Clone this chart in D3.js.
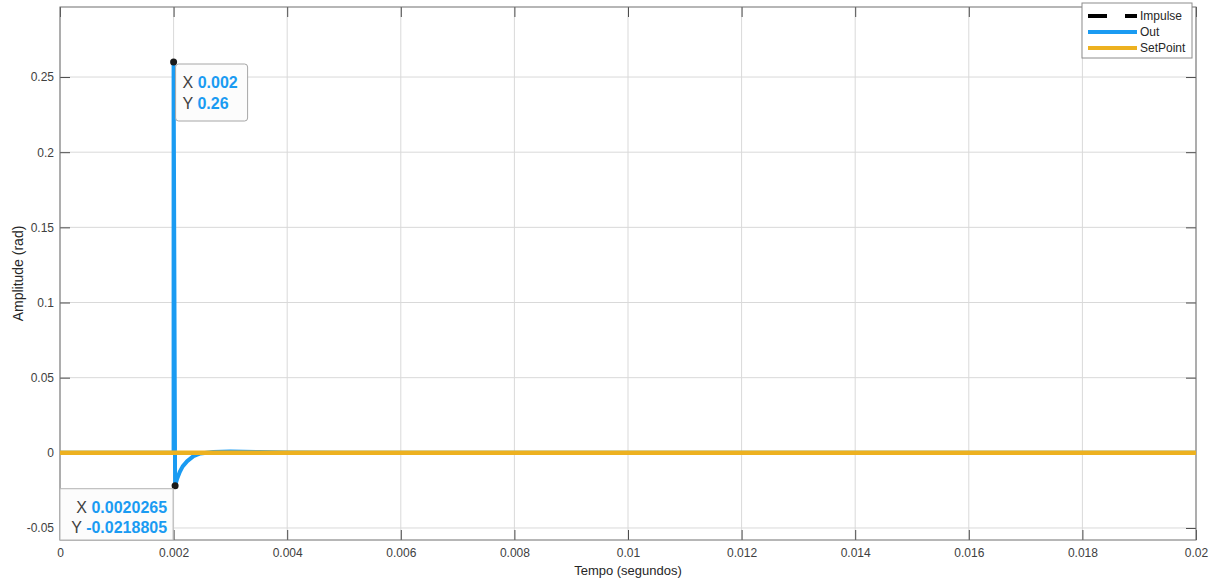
<!DOCTYPE html>
<html>
<head>
<meta charset="utf-8">
<script src="https://cdn.jsdelivr.net/npm/d3@7"></script>
<style>
  body { margin: 0; background: #fff; }
  svg { font-family: "Liberation Sans", Arial, sans-serif; }
</style>
</head>
<body>
<div id="canvas"></div>
<script>
// DATA
const xTicks = [0, 0.002, 0.004, 0.006, 0.008, 0.01, 0.012, 0.014, 0.016, 0.018, 0.02];
const xTickLabels = ["0", "0.002", "0.004", "0.006", "0.008", "0.01", "0.012", "0.014", "0.016", "0.018", "0.02"];
const yTicks = [-0.05, 0, 0.05, 0.1, 0.15, 0.2, 0.25];
const yTickLabels = ["-0.05", "0", "0.05", "0.1", "0.15", "0.2", "0.25"];

const outTime = [0, 0.002, 0.002, 0.0020265, 0.00206, 0.00211, 0.00216, 0.00224, 0.00235, 0.00247, 0.0027, 0.003, 0.0035, 0.004, 0.005, 0.02];
const outValues = [0, 0, 0.26, -0.0218805, -0.0175, -0.0126, -0.009, -0.0055, -0.0022, -0.0004, 0.0006, 0.0008, 0.0005, 0.0002, 0, 0];
const setPointTime = [0, 0.02];
const setPointValues = [0, 0];
const impulseTime = [0, 0.02];
const impulseValues = [0, 0];

const dataTips = [
  { x: 0.002, y: 0.26, xText: "0.002", yText: "0.26" },
  { x: 0.0020265, y: -0.0218805, xText: "0.0020265", yText: "-0.0218805" }
];

const legendNames = ["Impulse", "Out", "SetPoint"];

// DIMENSIONS
const width = 1222;
const height = 580;
const margin = { top: 7, bottom: 40, left: 60, right: 26 };
const plot_width = width - margin.left - margin.right;
const plot_height = height - margin.top - margin.bottom;

const blue = "#1a9bf2";
const orange = "#edb120";

const canvas = d3.select('#canvas')
  .append('svg')
  .attr('width', width)
  .attr('height', height);

const plot = canvas.append('g')
  .attr("transform", `translate(${margin.left},${margin.top})`);

// SCALES
const scaleX = d3.scaleLinear([0, 0.02], [0, plot_width]);
const scaleY = d3.scaleLinear([-0.058, 0.2966], [plot_height, 0]);

// GRID
plot.append("g").selectAll("line").data(xTicks).enter()
  .append("line")
  .attr("x1", d => scaleX(d)).attr("x2", d => scaleX(d))
  .attr("y1", 0).attr("y2", plot_height)
  .attr("stroke", "#d9d9d9");

plot.append("g").selectAll("line").data(yTicks).enter()
  .append("line")
  .attr("x1", 0).attr("x2", plot_width)
  .attr("y1", d => scaleY(d)).attr("y2", d => scaleY(d))
  .attr("stroke", "#d9d9d9");

// AXES
const tickColor = "#4d4d4d";
function styleAxis(g) {
  g.select(".domain").remove();
  g.selectAll("line").attr("stroke", tickColor);
  g.selectAll("text").attr("fill", "#404040").style("font-size", "12px");
}

plot.append("g")
  .attr("transform", `translate(0,${plot_height})`)
  .call(d3.axisBottom(scaleX).tickValues(xTicks).tickFormat((d, i) => xTickLabels[i])
    .tickSizeInner(-10).tickSizeOuter(0).tickPadding(8))
  .call(styleAxis);

plot.append("g")
  .call(d3.axisTop(scaleX).tickValues(xTicks).tickFormat("")
    .tickSizeInner(-10).tickSizeOuter(0))
  .call(styleAxis);

plot.append("g")
  .call(d3.axisLeft(scaleY).tickValues(yTicks).tickFormat((d, i) => yTickLabels[i])
    .tickSizeInner(-10).tickSizeOuter(0).tickPadding(6))
  .call(styleAxis);

plot.append("g")
  .attr("transform", `translate(${plot_width},0)`)
  .call(d3.axisRight(scaleY).tickValues(yTicks).tickFormat("")
    .tickSizeInner(-10).tickSizeOuter(0))
  .call(styleAxis);

plot.append("rect")
  .attr("width", plot_width).attr("height", plot_height)
  .attr("fill", "none").attr("stroke", "#6e6e6e");

// LINES
const line = d3.line().x(d => scaleX(d[0])).y(d => scaleY(d[1]));

plot.append("path")
  .datum(d3.zip(impulseTime, impulseValues))
  .attr("d", line).attr("fill", "none")
  .attr("stroke", "#000").attr("stroke-width", 3).attr("stroke-dasharray", "19,18");

plot.append("path")
  .datum(d3.zip(outTime, outValues))
  .attr("d", line).attr("fill", "none")
  .attr("stroke", blue).attr("stroke-width", 4).attr("stroke-linejoin", "round");

plot.append("path")
  .datum(d3.zip(setPointTime, setPointValues))
  .attr("d", line).attr("fill", "none")
  .attr("stroke", orange).attr("stroke-width", 4.5);

// DATA TIPS
plot.selectAll("circle.tip").data(dataTips).enter()
  .append("circle")
  .attr("class", "tip")
  .attr("cx", d => scaleX(d.x)).attr("cy", d => scaleY(d.y))
  .attr("r", 3.5).attr("fill", "#1a1a1a");

function tipText(g, x, y, anchor, label, value) {
  const t = g.append("text").attr("x", x).attr("y", y)
    .attr("text-anchor", anchor).style("font-size", "16px");
  t.append("tspan").attr("fill", "#404040").text(label + " ");
  t.append("tspan").attr("fill", blue).attr("font-weight", "bold").text(value);
}

// first tip: box to the right of the peak
const tip1 = plot.append("g");
const p1x = scaleX(dataTips[0].x), p1y = scaleY(dataTips[0].y);
tip1.append("rect")
  .attr("x", p1x + 2).attr("y", p1y + 2)
  .attr("width", 72).attr("height", 57).attr("rx", 3)
  .attr("fill", "#fcfcfc").attr("stroke", "#a6a6a6");
tipText(tip1, p1x + 9, p1y + 26, "start", "X", dataTips[0].xText);
tipText(tip1, p1x + 9, p1y + 47, "start", "Y", dataTips[0].yText);

// second tip: box in the lower-left corner
const tip2 = plot.append("g");
const p2x = scaleX(dataTips[1].x);
tip2.append("rect")
  .attr("x", 0).attr("y", scaleY(dataTips[1].y) + 3)
  .attr("width", p2x - 2).attr("height", plot_height - scaleY(dataTips[1].y) - 3)
  .attr("fill", "#fcfcfc").attr("stroke", "#b3b3b3");
tipText(tip2, p2x - 8, scaleY(dataTips[1].y) + 27, "end", "X", dataTips[1].xText);
tipText(tip2, p2x - 8, scaleY(dataTips[1].y) + 47, "end", "Y", dataTips[1].yText);

// LABELS
canvas.append("text")
  .attr("x", margin.left + plot_width / 2).attr("y", 575)
  .attr("text-anchor", "middle").attr("fill", "#262626")
  .style("font-size", "13px").text("Tempo (segundos)");

canvas.append("text")
  .attr("transform", `translate(23,${margin.top + plot_height / 2}) rotate(-90)`)
  .attr("text-anchor", "middle").attr("fill", "#262626")
  .style("font-size", "14px").text("Amplitude (rad)");

// LEGEND
const legend = canvas.append("g").attr("transform", "translate(1082,3)");
legend.append("rect")
  .attr("width", 110).attr("height", 55)
  .attr("fill", "#fff").attr("stroke", "#8c8c8c");

const legendStyles = [
  { color: "#000", dash: "19,18" },
  { color: blue, dash: null },
  { color: orange, dash: null }
];

const items = legend.selectAll("g.item").data(legendNames).enter()
  .append("g").attr("class", "item")
  .attr("transform", (d, i) => `translate(0,${13 + i * 16})`);

items.append("line")
  .attr("x1", 6).attr("x2", 55)
  .attr("stroke", (d, i) => legendStyles[i].color)
  .attr("stroke-width", 4)
  .attr("stroke-dasharray", (d, i) => legendStyles[i].dash);

items.append("text")
  .attr("x", 58).attr("y", 4)
  .attr("fill", "#262626").style("font-size", "12px")
  .text(d => d);
</script>
</body>
</html>
